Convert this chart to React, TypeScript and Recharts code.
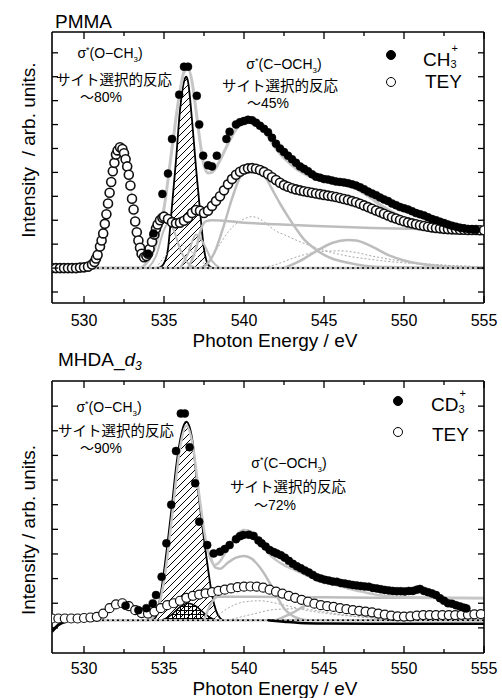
import { ComposedChart, Line, Area, XAxis, YAxis } from "recharts";

type P = [number, number];

const font = '"Liberation Sans", Arial, "Noto Sans CJK JP", sans-serif';

const xTicks = [530, 532.5, 535, 537.5, 540, 542.5, 545, 547.5, 550, 552.5, 555];
const yTicksTop = [-1, 0, 1, 2, 3, 4, 5, 6, 7, 8, 9];
const yTicksBottom = [0, 1, 2, 3, 4, 5, 6, 7, 8, 9];

// ---- PMMA (top) ----
const pmmaTey: P[] = [
  [528, 0], [528.25, 0], [528.5, 0], [528.75, 0], [529, 0], [529.25, 0], [529.5, 0],
  [529.75, 0.02], [530, 0.03], [530.25, 0.06], [530.5, 0.15], [530.65, 0.25], [530.75, 0.4],
  [530.85, 0.55], [531, 0.9], [531.1, 1.15], [531.2, 1.45], [531.3, 1.85], [531.4, 2.25],
  [531.5, 2.7], [531.6, 3.15], [531.7, 3.6], [531.8, 4.05], [531.9, 4.4], [532, 4.75],
  [532.1, 4.92], [532.25, 5.05], [532.4, 4.98], [532.5, 4.8], [532.6, 4.55], [532.7, 4.25],
  [532.8, 3.9], [532.9, 3.45], [533, 2.9], [533.1, 2.45], [533.2, 1.95], [533.3, 1.5],
  [533.4, 1.15], [533.5, 0.85], [533.6, 0.6], [533.75, 0.45], [533.9, 0.5], [534, 0.6],
  [534.1, 0.8], [534.25, 1.1], [534.4, 1.4], [534.5, 1.65], [534.6, 1.82], [534.75, 2.0],
  [534.9, 2.1], [535, 2.15], [535.25, 2.05], [535.5, 1.92],
  [535.75, 1.87], [536, 1.9], [536.25, 1.98], [536.5, 2.1], [536.75, 2.3], [537, 2.43],
  [537.25, 2.4], [537.5, 2.3], [537.75, 2.4], [538, 2.6], [538.25, 2.8], [538.5, 3.0],
  [538.75, 3.25], [539, 3.5], [539.25, 3.72], [539.5, 3.9], [539.75, 4.03], [540, 4.12],
  [540.25, 4.17], [540.5, 4.18], [540.75, 4.15], [541, 4.1], [541.25, 4.02], [541.5, 3.92],
  [541.75, 3.8], [542, 3.68], [542.25, 3.57], [542.5, 3.47], [542.75, 3.4], [543, 3.34],
  [543.25, 3.29], [543.5, 3.25], [543.75, 3.21], [544, 3.18], [544.25, 3.15], [544.5, 3.12],
  [544.75, 3.09], [545, 3.06], [545.25, 3.03], [545.5, 3.0], [545.75, 2.97], [546, 2.93],
  [546.25, 2.89], [546.5, 2.85], [546.75, 2.8], [547, 2.75], [547.25, 2.69], [547.5, 2.62],
  [547.75, 2.55], [548, 2.48], [548.25, 2.41], [548.5, 2.34], [548.75, 2.27], [549, 2.2],
  [549.25, 2.13], [549.5, 2.07], [549.75, 2.01], [550, 1.96], [550.25, 1.91], [550.5, 1.87],
  [550.75, 1.83], [551, 1.79], [551.25, 1.76], [551.5, 1.73], [551.75, 1.7], [552, 1.68],
  [552.25, 1.66], [552.5, 1.64], [552.75, 1.63], [553, 1.62], [553.25, 1.61], [553.5, 1.6],
  [553.75, 1.6], [554, 1.59], [554.25, 1.59], [554.5, 1.59], [554.75, 1.58], [555, 1.58],
];

const pmmaIon: P[] = [
  [534, 0.6], [534.35, 1.45], [534.9, 3.1], [535.25, 3.95], [535.5, 5.4], [535.95, 7.25],
  [536.25, 8.42], [536.5, 8.42], [537.05, 7.2], [537.2, 6.0], [537.45, 4.7], [537.75, 4.3],
  [538, 4.25], [538.3, 4.7], [538.9, 5.4], [539.1, 5.7], [539.5, 6.0], [539.75, 6.1],
  [540, 6.15], [540.25, 6.2], [540.5, 6.18], [540.75, 6.08], [541, 5.95], [541.25, 5.82],
  [541.5, 5.68], [541.75, 5.45], [542, 5.2], [542.25, 5.0], [542.5, 4.85], [542.75, 4.7],
  [543, 4.55], [543.25, 4.4], [543.5, 4.25], [543.75, 4.15], [544, 4.05], [544.25, 3.92],
  [544.5, 3.82], [544.75, 3.78], [545, 3.72], [545.25, 3.7], [545.5, 3.66], [545.75, 3.62],
  [546, 3.6], [546.25, 3.58], [546.5, 3.55], [546.75, 3.5], [547, 3.45], [547.25, 3.38],
  [547.5, 3.3], [547.75, 3.2], [548, 3.12], [548.25, 3.05], [548.5, 2.95], [548.75, 2.87],
  [549, 2.8], [549.25, 2.7], [549.5, 2.63], [549.75, 2.55], [550, 2.5], [550.25, 2.45],
  [550.5, 2.38], [550.75, 2.3], [551, 2.25], [551.25, 2.2], [551.5, 2.12], [551.75, 2.05],
  [552, 2.0], [552.25, 1.94], [552.5, 1.88], [552.75, 1.82], [553, 1.77], [553.25, 1.73],
  [553.5, 1.69], [553.75, 1.66], [554, 1.63], [554.25, 1.62], [554.5, 1.6],
];

const pmmaFit: P[] = [
  [528, 0], [533.5, 0], [534, 0.3], [534.5, 1.0], [535, 2.5], [535.5, 5.0], [536, 7.4],
  [536.25, 8.2], [536.5, 8.35], [536.75, 7.8], [537, 6.6], [537.25, 5.3], [537.5, 4.3],
  [537.75, 3.97], [538, 4.0], [538.5, 4.5], [539, 5.2], [539.5, 5.8], [540, 6.15],
  [540.5, 6.25], [541, 6.0], [541.5, 5.5], [542, 5.0], [542.5, 4.6], [543, 4.3],
  [543.5, 4.05], [544, 3.88], [544.5, 3.76], [545, 3.68], [545.5, 3.62], [546, 3.55],
  [546.5, 3.46], [547, 3.33], [547.5, 3.12], [548, 2.9], [548.5, 2.65], [549, 2.45],
  [549.5, 2.25], [550, 2.1], [550.5, 1.98], [551, 1.88], [551.5, 1.8], [552, 1.74],
  [552.5, 1.7], [553, 1.65], [553.5, 1.62], [554, 1.6], [555, 1.58],
];

const pmmaHatch: P[] = [
  [534.5, 0], [534.75, 0.03], [535, 0.2], [535.25, 0.8], [535.5, 2.6], [535.75, 4.5],
  [536, 6.6], [536.25, 7.8], [536.4, 8.0], [536.5, 7.8], [536.75, 6.2], [537, 4.2],
  [537.25, 2.4], [537.5, 0.8], [537.75, 0.15], [538, 0],
];

const pmmaPeakA: P[] = [
  [534, 0], [534.5, 0.5], [535, 1.6], [535.3, 1.9], [535.6, 1.6], [536, 0.8], [536.5, 0.2], [537, 0],
];
const pmmaPeakB: P[] = [
  [536, 0], [536.5, 0.6], [537, 1.4], [537.5, 1.0], [538, 0.3], [538.5, 0],
];
const pmmaStep: P[] = [
  [536.5, 0], [537, 0.8], [537.3, 1.6], [537.6, 1.95], [538, 2.0], [540, 1.9], [542, 1.83],
  [545, 1.75], [548, 1.68], [551, 1.63], [555, 1.58],
];
const pmmaSigma: P[] = [
  [537.25, 0], [537.75, 0.2], [538.25, 0.8], [538.75, 1.8], [539.25, 2.9], [539.75, 3.8],
  [540.25, 4.15], [540.75, 4.1], [541.25, 3.9], [541.75, 3.3], [542.25, 2.7], [542.75, 2.15],
  [543.25, 1.65], [543.75, 1.2], [544.25, 0.9], [544.75, 0.65], [545.5, 0.4], [546.5, 0.22],
  [547.5, 0.1], [549, 0.04], [555, 0],
];
const pmmaPeak547: P[] = [
  [542.5, 0], [543.5, 0.3], [544.5, 0.7], [545.5, 1.05], [546.5, 1.17], [547, 1.15],
  [548, 0.9], [549, 0.55], [550, 0.32], [551, 0.18], [552, 0.1], [553, 0.05], [555, 0.02],
];
const pmmaDotA: P[] = [
  [537.3, 0], [538, 0.5], [538.5, 1.0], [539, 1.5], [539.5, 1.85], [540, 2.05], [540.5, 2.15],
  [541, 2.05], [541.5, 1.8], [542, 1.55], [542.5, 1.4], [543.5, 1.1], [544.5, 0.85],
  [545.5, 0.65], [546.5, 0.5], [547.5, 0.4], [549, 0.28], [551, 0.17], [553, 0.1], [555, 0.06],
];
const pmmaDotB: P[] = [
  [541, 0], [542, 0.15], [543, 0.4], [544, 0.6], [545, 0.7], [546, 0.72], [547, 0.65],
  [548, 0.5], [549, 0.38], [550, 0.28], [552, 0.15], [555, 0.05],
];
const pmmaDotC: P[] = [
  [534.5, 0], [535.5, 0.8], [536, 1.0], [536.5, 0.8], [537.5, 0.2], [538, 0],
];
const pmmaBase: P[] = [[528, 0], [555, 0]];

// ---- MHDA_d3 (bottom) ----
const mhdaTey: P[] = [
  [528, 0.38], [528.4, 0.38], [528.8, 0.38], [529.2, 0.38], [529.6, 0.38], [530, 0.4],
  [530.4, 0.42], [530.8, 0.45], [531.2, 0.58], [531.6, 0.8], [532, 0.95], [532.4, 1.0],
  [532.8, 0.88], [533.2, 0.72], [533.6, 0.6], [534, 0.58], [534.4, 0.66], [534.8, 0.8],
  [535.2, 0.92], [535.6, 1.0], [536, 1.1], [536.4, 1.22], [536.8, 1.3], [537.2, 1.35],
  [537.6, 1.4], [538, 1.45], [538.4, 1.5], [538.8, 1.55], [539.2, 1.6], [539.6, 1.65],
  [540, 1.67], [540.4, 1.68], [540.8, 1.67], [541.2, 1.63], [541.6, 1.55], [542, 1.47],
  [542.4, 1.39], [542.8, 1.3], [543.2, 1.22], [543.6, 1.14], [544, 1.06], [544.4, 0.98],
  [544.8, 0.92], [545.2, 0.88], [545.6, 0.85], [546, 0.8], [546.4, 0.76], [546.8, 0.72],
  [547.2, 0.69], [547.6, 0.66], [548, 0.63], [548.4, 0.58], [548.8, 0.54], [549.2, 0.5],
  [549.6, 0.47], [550, 0.46], [550.4, 0.47], [550.8, 0.5], [551.2, 0.52], [551.6, 0.52],
  [552, 0.52], [552.4, 0.52], [552.8, 0.52], [553.2, 0.52], [553.6, 0.53], [554, 0.54],
  [554.4, 0.55], [554.8, 0.56],
];

const mhdaIon: P[] = [
  [532.6, 0.9], [533.4, 0.72], [533.9, 0.8], [534.3, 0.99], [534.5, 1.33], [534.85, 2.07],
  [535.15, 3.43], [535.45, 5.0], [535.75, 7.18], [536.05, 8.7], [536.3, 8.7], [536.6, 7.33],
  [536.95, 5.87], [537.2, 4.31], [537.7, 3.36], [538.1, 3.02], [538.5, 3.09], [538.8, 3.2],
  [539.1, 3.36], [539.5, 3.6], [539.75, 3.72], [539.95, 3.77], [540.3, 3.78], [540.6, 3.73],
  [540.9, 3.55], [541.1, 3.43], [541.35, 3.3], [541.6, 3.16], [541.85, 3.08], [542.05, 3.02],
  [542.3, 2.95], [542.55, 2.85], [542.8, 2.72], [543.05, 2.6], [543.3, 2.5], [543.55, 2.42],
  [543.8, 2.33], [544.05, 2.25], [544.3, 2.15], [544.55, 2.05], [544.8, 2.0], [545.05, 1.95],
  [545.3, 1.92], [545.55, 1.88], [545.8, 1.87], [546.05, 1.82], [546.3, 1.8], [546.55, 1.77],
  [546.8, 1.74], [547.05, 1.72], [547.3, 1.7], [547.55, 1.68], [547.8, 1.67], [548.05, 1.62],
  [548.3, 1.6], [548.55, 1.57], [548.8, 1.54], [549.05, 1.52], [549.3, 1.5], [549.55, 1.49],
  [549.8, 1.49], [550.05, 1.48], [550.3, 1.5], [550.55, 1.5], [550.8, 1.55], [551, 1.58],
  [551.25, 1.5], [551.5, 1.45], [551.75, 1.4], [552, 1.33], [552.25, 1.2], [552.5, 1.1],
  [552.75, 1.0], [553, 0.98], [553.25, 0.92], [553.5, 0.87], [553.75, 0.82], [553.9, 0.79],
];

const mhdaFit: P[] = [
  [528, 0.31], [534, 0.31], [534.5, 0.6], [535, 1.9], [535.5, 4.5], [536, 7.3], [536.4, 8.2],
  [536.8, 7.4], [537.2, 5.4], [537.6, 3.6], [537.9, 2.8], [538.2, 2.55], [538.5, 2.7],
  [539, 3.25], [539.5, 3.75], [540, 3.97], [540.5, 3.9], [541, 3.55], [541.5, 3.05],
  [542, 2.75], [542.5, 2.55], [543, 2.4], [543.5, 2.25], [544, 2.1], [544.5, 1.98],
  [545, 1.88], [545.5, 1.78], [546, 1.7], [546.5, 1.6], [547, 1.52], [547.5, 1.45],
  [548, 1.38], [548.5, 1.32], [549, 1.28], [550, 1.24], [552, 1.22], [555, 1.2],
];

const mhdaHatch: P[] = [
  [534.25, 0.31], [534.5, 0.45], [534.75, 1.2], [535, 2.3], [535.25, 3.6], [535.5, 5.0],
  [535.75, 6.5], [536, 7.6], [536.25, 8.25], [536.4, 8.37], [536.6, 8.15], [536.8, 7.5],
  [537, 6.3], [537.25, 4.9], [537.5, 3.6], [537.75, 2.4], [538, 1.35], [538.25, 0.7],
  [538.5, 0.4], [538.7, 0.31],
];
const mhdaCross: P[] = [
  [534.75, 0.31], [535, 0.35], [535.5, 0.55], [536, 0.85], [536.5, 1.0], [537, 0.88],
  [537.5, 0.6], [538, 0.38], [538.3, 0.31],
];
const mhdaStep: P[] = [
  [537.5, 0.31], [537.8, 0.8], [538.1, 1.15], [538.4, 1.26], [540, 1.26], [545, 1.24],
  [550, 1.22], [555, 1.21],
];
const mhdaSigma: P[] = [
  [537.9, 2.9], [538.2, 2.45], [538.5, 2.4], [539, 2.65], [539.5, 2.85], [540, 2.92],
  [540.5, 2.8], [541, 2.45], [541.5, 1.95], [542, 1.35], [542.5, 0.8], [543, 0.5],
  [543.5, 0.36], [544, 0.31],
];
const mhdaPeak544: P[] = [
  [542, 0.31], [543, 0.6], [544, 0.95], [544.75, 1.05], [545.5, 0.95], [546.5, 0.7],
  [547.5, 0.5], [549, 0.38], [551, 0.33], [555, 0.31],
];
const mhdaDotA: P[] = [
  [538, 0.31], [539, 0.8], [540, 1.05], [541, 1.1], [542, 1.0], [543, 0.85], [544, 0.7],
  [545, 0.6], [546, 0.52], [548, 0.42], [551, 0.36], [555, 0.33],
];
const mhdaDotB: P[] = [
  [539, 0.31], [540.5, 0.55], [542, 0.75], [543.5, 0.78], [545, 0.65], [546.5, 0.5],
  [548, 0.4], [551, 0.34], [555, 0.32],
];
const mhdaBlack: P[] = [
  [541.5, 0.31], [542.5, 0.25], [543.5, 0.2], [545, 0.18], [550, 0.17], [555, 0.17],
];
const mhdaWedge: P[] = [[528, -0.15], [528.4, 0.12], [528.9, 0.28]];
const mhdaBase: P[] = [[528, 0.31], [555, 0.31]];

const pts = (a: P[]) => a.map(([x, y]) => ({ x, y }));

function curve(key: string, data: P[], stroke: string, width: number, dash?: string) {
  return (
    <Line
      key={key}
      xAxisId="b"
      yAxisId="l"
      data={pts(data)}
      dataKey="y"
      type="monotone"
      stroke={stroke}
      strokeWidth={width}
      strokeDasharray={dash}
      dot={false}
      activeDot={false}
      isAnimationActive={false}
    />
  );
}

function markers(key: string, data: P[], filled: boolean, ring = 1.2) {
  return (
    <Line
      key={key}
      xAxisId="b"
      yAxisId="l"
      data={pts(data)}
      dataKey="y"
      stroke="none"
      dot={filled
        ? { r: 4, fill: "#000", stroke: "#000", strokeWidth: 0.5 }
        : { r: 4.5, fill: "#fff", stroke: "#111", strokeWidth: ring }}
      activeDot={false}
      isAnimationActive={false}
    />
  );
}

function frame(yDomain: [number, number], yTicks: number[], labelDy: number) {
  const bottomTick = (p: any) => {
    const major = p.payload.value % 5 === 0;
    return (
      <g>
        <line x1={p.x} x2={p.x} y1={p.y} y2={p.y - (major ? 7 : 4)} stroke="#000" strokeWidth={1.3} />
        {major && (
          <text x={p.x} y={p.y + labelDy} textAnchor="middle" fontSize={16} fontFamily={font} fill="#000">
            {p.payload.value}
          </text>
        )}
      </g>
    );
  };
  const topTick = (p: any) => {
    const major = p.payload.value % 5 === 0;
    return <line x1={p.x} x2={p.x} y1={p.y} y2={p.y + (major ? 7 : 4)} stroke="#000" strokeWidth={1.3} />;
  };
  const leftTick = (p: any) => (
    <line x1={p.x} x2={p.x + 6} y1={p.y} y2={p.y} stroke="#000" strokeWidth={1.3} />
  );
  const rightTick = (p: any) => (
    <line x1={p.x} x2={p.x - 6} y1={p.y} y2={p.y} stroke="#000" strokeWidth={1.3} />
  );
  const axisLine = { stroke: "#000", strokeWidth: 1.6 };
  return [
    <XAxis key="xb" xAxisId="b" type="number" dataKey="x" domain={[528, 555]} ticks={xTicks}
      interval={0} height={1} tickSize={0} tickMargin={0} tickLine={false} axisLine={axisLine}
      tick={bottomTick} allowDataOverflow />,
    <XAxis key="xt" xAxisId="t" orientation="top" type="number" dataKey="x" domain={[528, 555]}
      ticks={xTicks} interval={0} height={1} tickSize={0} tickMargin={0} tickLine={false}
      axisLine={axisLine} tick={topTick} allowDataOverflow />,
    <YAxis key="yl" yAxisId="l" type="number" domain={yDomain} ticks={yTicks} interval={0}
      width={1} tickSize={0} tickMargin={0} tickLine={false} axisLine={axisLine}
      tick={leftTick} allowDataOverflow />,
    <YAxis key="yr" yAxisId="r" orientation="right" type="number" domain={yDomain} ticks={yTicks}
      interval={0} width={1} tickSize={0} tickMargin={0} tickLine={false} axisLine={axisLine}
      tick={rightTick} allowDataOverflow />,
  ];
}

const patterns = (
  <defs>
    <pattern id="hatch" patternUnits="userSpaceOnUse" width="7" height="7">
      <path d="M-1,1 L1,-1 M0,7 L7,0 M6,8 L8,6" stroke="#000" strokeWidth="1" />
    </pattern>
    <pattern id="cross" patternUnits="userSpaceOnUse" width="4" height="4">
      <path d="M0,0.5 L4,0.5 M0.5,0 L0.5,4" stroke="#000" strokeWidth="1" />
    </pattern>
  </defs>
);

const GRAY = "#bdbdbd";
const DOT = "#a8a8a8";

function Txt({ x, y, size, children, anchor = "center", style }: any) {
  return (
    <div
      style={{
        position: "absolute",
        left: x,
        top: y,
        transform: anchor === "center" ? "translate(-50%, -50%)" : "translate(0, -50%)",
        fontSize: size,
        lineHeight: 1,
        whiteSpace: "pre",
        fontFamily: font,
        color: "#000",
        ...style,
      }}
    >
      {children}
    </div>
  );
}

function Sigma({ x, y, mid }: { x: number; y: number; mid: string }) {
  return (
    <Txt x={x} y={y} size={14}>
      σ<sup style={{ fontSize: 9 }}>*</sup>({mid}
      <sub style={{ fontSize: 8 }}>3</sub>)
    </Txt>
  );
}

function Ion({ x, y, base }: { x: number; y: number; base: string }) {
  return (
    <Txt x={x} y={y} size={19} anchor="left">
      {base}
      <span style={{ position: "relative", display: "inline-block", width: 10, height: 19 }}>
        <span style={{ position: "absolute", left: 1, top: -4, fontSize: 11 }}>+</span>
        <span style={{ position: "absolute", left: 0, top: 12, fontSize: 11 }}>3</span>
      </span>
    </Txt>
  );
}

function Marker({ x, y, filled }: { x: number; y: number; filled: boolean }) {
  return (
    <div
      style={{
        position: "absolute",
        left: x - 5,
        top: y - 5,
        width: 8,
        height: 8,
        borderRadius: "50%",
        border: "1px solid #000",
        background: filled ? "#000" : "#fff",
      }}
    />
  );
}

export default function App() {
  const jp = { fontFamily: '"Noto Sans CJK JP", sans-serif' };
  return (
    <div style={{ position: "absolute", left: 0, top: 0, width: 502, height: 698, background: "#fff" }}>
      <div style={{ position: "absolute", left: 0, top: 0 }}>
        <ComposedChart width={502} height={350} margin={{ top: 31, right: 17, bottom: 46, left: 51 }}>
          {patterns}
          {frame([-1.46, 9.87], yTicksTop, 23)}
          {curve("pa", pmmaPeakA, GRAY, 2)}
          {curve("pb", pmmaPeakB, GRAY, 2)}
          {curve("dc", pmmaDotC, DOT, 1, "2 2")}
          <Area
            xAxisId="b"
            yAxisId="l"
            data={pts(pmmaHatch)}
            dataKey="y"
            type="monotone"
            baseValue={0}
            fill="url(#hatch)"
            fillOpacity={1}
            stroke="#000"
            strokeWidth={1.8}
            dot={false}
            activeDot={false}
            isAnimationActive={false}
          />
          {curve("da", pmmaDotA, DOT, 1, "2 2")}
          {curve("db", pmmaDotB, DOT, 1, "2 2")}
          {curve("st", pmmaStep, GRAY, 2.5)}
          {curve("sg", pmmaSigma, GRAY, 2.5)}
          {curve("p547", pmmaPeak547, GRAY, 2.5)}
          {curve("bs", pmmaBase, GRAY, 2.5)}
          {markers("tey", pmmaTey, false, 1.6)}
          {curve("teyfit", pmmaTey, "#d9d9d9", 1.5)}
          {markers("ion", pmmaIon, true)}
          {curve("fit", pmmaFit, "#c6c6c6", 3)}
          {curve("bd", pmmaBase, "#000", 1.5, "2 3")}
        </ComposedChart>
      </div>

      <div style={{ position: "absolute", left: 0, top: 350 }}>
        <ComposedChart width={502} height={340} margin={{ top: 30, right: 17, bottom: 36, left: 51 }}>
          {patterns}
          {frame([-1.02, 10.02], yTicksBottom, 21)}
          <Area
            xAxisId="b"
            yAxisId="l"
            data={pts(mhdaHatch)}
            dataKey="y"
            type="monotone"
            baseValue={0.31}
            fill="url(#hatch)"
            fillOpacity={1}
            stroke="#000"
            strokeWidth={1.8}
            dot={false}
            activeDot={false}
            isAnimationActive={false}
          />
          <Area
            xAxisId="b"
            yAxisId="l"
            data={pts(mhdaCross)}
            dataKey="y"
            type="monotone"
            baseValue={0.31}
            fill="url(#cross)"
            fillOpacity={1}
            stroke="#000"
            strokeWidth={1.5}
            dot={false}
            activeDot={false}
            isAnimationActive={false}
          />
          {curve("da", mhdaDotA, DOT, 1, "2 2")}
          {curve("db", mhdaDotB, DOT, 1, "2 2")}
          {curve("st", mhdaStep, GRAY, 2.5)}
          {curve("sg", mhdaSigma, GRAY, 2.5)}
          {curve("p544", mhdaPeak544, GRAY, 2.5)}
          {curve("bs", mhdaBase, GRAY, 2.5)}
          {curve("bk", mhdaBlack, "#000", 2.5)}
          {curve("wd", mhdaWedge, "#000", 3)}
          {markers("tey", mhdaTey, false)}
          {markers("ion", mhdaIon, true)}
          {curve("fit", mhdaFit, "#c6c6c6", 2.5)}
          {curve("bd", mhdaBase, "#000", 1.5, "2 3")}
        </ComposedChart>
      </div>

      {/* titles and axis labels */}
      <Txt x={55} y={21} size={19} anchor="left">PMMA</Txt>
      <Txt x={58} y={361} size={19} anchor="left">
        MHDA_<i>d</i>
        <sub style={{ fontSize: 12, fontStyle: "italic" }}>3</sub>
      </Txt>
      <Txt x={275} y={340} size={19}>Photon Energy / eV</Txt>
      <Txt x={275} y={688} size={19}>Photon Energy / eV</Txt>
      <Txt x={28} y={150} size={19} style={{ transform: "translate(-50%, -50%) rotate(-90deg)" }}>
        Intensity  / arb. units.
      </Txt>
      <Txt x={28} y={530} size={19} style={{ transform: "translate(-50%, -50%) rotate(-90deg)" }}>
        Intensity / arb. units.
      </Txt>

      {/* PMMA annotations */}
      <Sigma x={110} y={55} mid="O−CH" />
      <Txt x={114} y={79} size={14.5} style={jp}>サイト選択的反応</Txt>
      <Txt x={101} y={97} size={14}>〜80%</Txt>
      <Sigma x={284} y={66} mid="C−OCH" />
      <Txt x={280} y={85} size={14.5} style={jp}>サイト選択的反応</Txt>
      <Txt x={268} y={103} size={14}>〜45%</Txt>

      {/* MHDA annotations */}
      <Sigma x={109} y={409} mid="O−CH" />
      <Txt x={116} y={430} size={14.5} style={jp}>サイト選択的反応</Txt>
      <Txt x={101} y={448} size={14}>〜90%</Txt>
      <Sigma x={289} y={465} mid="C−OCH" />
      <Txt x={288} y={486} size={14.5} style={jp}>サイト選択的反応</Txt>
      <Txt x={275} y={505} size={14}>〜72%</Txt>

      {/* legends */}
      <Marker x={391} y={55} filled />
      <Ion x={423} y={58} base="CH" />
      <Marker x={391} y={82} filled={false} />
      <Txt x={425} y={81} size={19} anchor="left">TEY</Txt>

      <Marker x={398} y={401} filled />
      <Ion x={431} y={403} base="CD" />
      <Marker x={398} y={432} filled={false} />
      <Txt x={432} y={434} size={19} anchor="left">TEY</Txt>
    </div>
  );
}
